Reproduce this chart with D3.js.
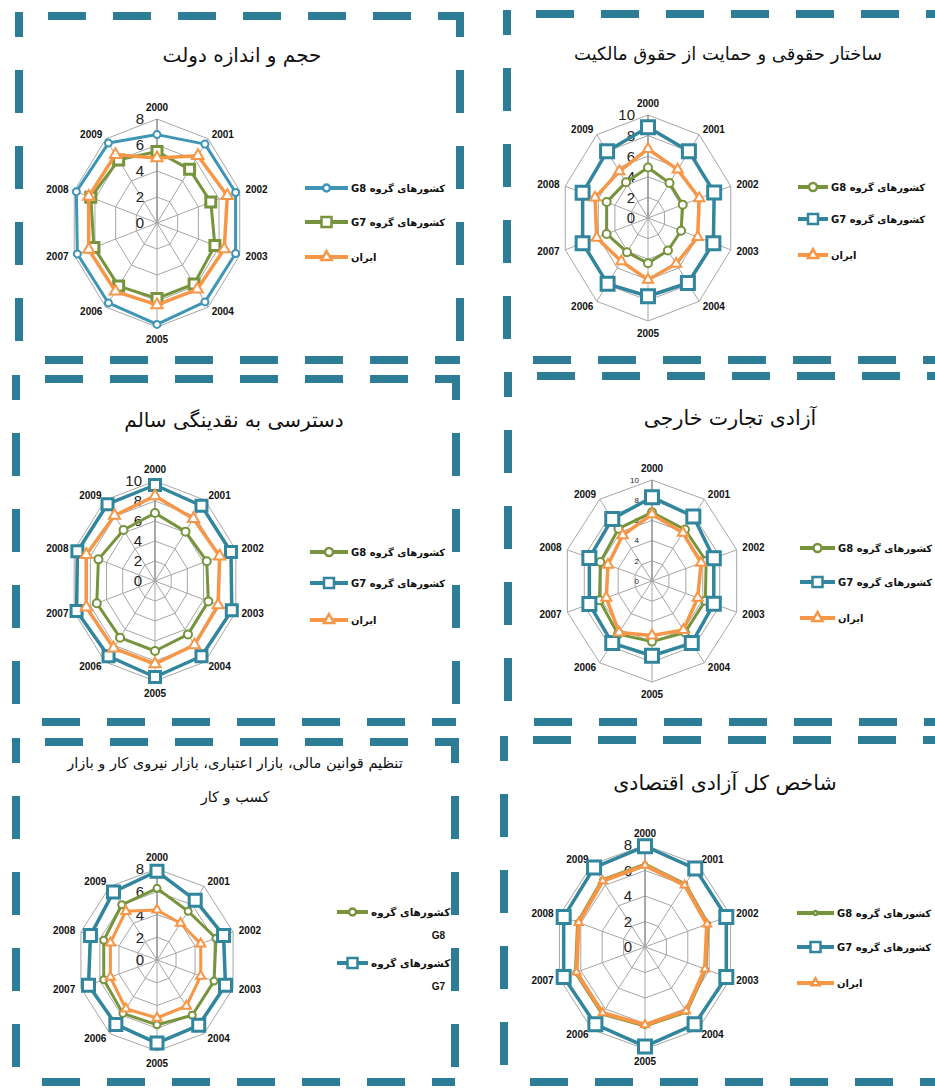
<!DOCTYPE html>
<html><head><meta charset="utf-8">
<script src="https://cdn.jsdelivr.net/npm/d3@7"></script>
<style>body{margin:0;background:#fff} svg{display:block}</style>
</head><body>
<svg id="c" width="935" height="1088"></svg>
<script>
// ---------- DATA ----------
const years = ["2000","2001","2002","2003","2004","2005","2006","2007","2008","2009"];
const labelG8 = "کشورهای گروه G8";
const labelG7 = "کشورهای گروه G7";
const labelIran = "ایران";
const titles = [
  "حجم و اندازه دولت",
  "ساختار حقوقی و حمایت از حقوق مالکیت",
  "دسترسی به نقدینگی سالم",
  "آزادی تجارت خارجی",
  "تنظیم قوانین مالی، بازار اعتباری، بازار نیروی کار و بازار|کسب و کار",
  "شاخص کل آزادی اقتصادی"
];
const ticks8 = [0,2,4,6,8];
const ticks10 = [0,2,4,6,8,10];

// 1 size of government
const govG8   = [6.8, 7.5, 7.6, 7.6, 7.5, 7.8, 7.6, 7.7, 7.8, 7.6];
const govG7   = [5.5, 5.1, 5.2, 5.6, 5.8, 5.8, 6.0, 6.1, 6.4, 6.0];
const govIran = [5.0, 6.4, 6.8, 6.5, 6.3, 6.3, 6.5, 6.6, 6.6, 6.5];
// 2 legal structure & property rights
const legalG8   = [4.9, 4.2, 4.2, 4.0, 3.9, 4.4, 4.1, 5.0, 5.0, 4.3];
const legalG7   = [8.8, 8.0, 8.0, 7.9, 7.8, 7.6, 7.9, 7.9, 7.9, 8.0];
const legalIran = [6.7, 5.8, 6.2, 6.0, 5.5, 6.0, 5.2, 6.2, 6.4, 5.6];
// 3 sound money
const moneyG8   = [6.8, 6.1, 6.4, 6.6, 6.6, 7.0, 7.0, 7.2, 7.0, 6.3];
const moneyG7   = [9.6, 9.3, 9.4, 9.5, 9.3, 9.6, 9.3, 9.7, 9.6, 9.5];
const moneyIran = [8.5, 7.7, 8.0, 7.8, 7.9, 8.3, 8.3, 8.5, 8.5, 8.1];
// 4 freedom to trade
const tradeG8   = [6.8, 6.3, 6.4, 6.3, 6.3, 6.0, 6.5, 6.2, 6.1, 6.4];
const tradeG7   = [8.3, 7.9, 7.3, 7.3, 7.6, 7.4, 7.6, 7.4, 7.4, 7.6];
const tradeIran = [6.6, 5.9, 5.8, 5.4, 6.0, 5.4, 6.3, 5.4, 5.2, 5.6];
// 5 regulation
const regG8   = [6.3, 5.3, 6.2, 6.0, 6.0, 5.7, 5.8, 5.6, 5.6, 6.0];
const regG7   = [7.8, 6.5, 7.0, 7.2, 7.1, 7.3, 7.0, 7.2, 7.0, 7.4];
const regIran = [4.4, 4.0, 4.6, 4.6, 5.0, 5.1, 5.3, 4.9, 4.9, 5.3];
// 6 overall index
const allG8   = [6.5, 6.1, 5.9, 5.7, 6.3, 6.2, 6.5, 6.5, 6.3, 6.5];
const allG7   = [7.9, 7.6, 7.6, 7.6, 7.5, 7.8, 7.5, 7.6, 7.6, 7.7];
const allIran = [6.4, 6.0, 5.8, 5.6, 6.2, 6.1, 6.4, 6.4, 6.2, 6.4];

// ---------- STYLE / LAYOUT ----------
const BLUE = "#31859C", BLUE2 = "#3F95B5", GREEN = "#77933C", ORANGE = "#F79646";
const BORDER = "#2E7D97";
const FA = "'DejaVu Sans', sans-serif";
const NUM = "'Liberation Sans', Arial, sans-serif";
const RLE = "\u202B", PDF = "\u202C";

const panels = [
  { title: titles[0], max: 8, ticks: ticks8, box: [19,16,460,360], titleX: 242, titleY: 62, titleSize: 20,
    cx: 157, cy: 223, rx: 87, ry: 104, tickSize: 15,
    series: [
      {name: labelG8, values: govG8, color: BLUE2, marker: "circle", ms: 7, lw: 3},
      {name: labelG7, values: govG7, color: GREEN, marker: "square", ms: 10, lw: 3},
      {name: labelIran, values: govIran, color: ORANGE, marker: "triangle", ms: 11, lw: 3.5}],
    legend: {x1: 305, x2: 348, ys: [188, 222, 257]} },
  { title: titles[1], max: 10, ticks: ticks10, box: [507,14,945,360], titleX: 728, titleY: 60, titleSize: 18,
    cx: 648, cy: 218, rx: 87, ry: 103, tickSize: 15,
    series: [
      {name: labelG8, values: legalG8, color: GREEN, marker: "circle", ms: 8, lw: 3},
      {name: labelG7, values: legalG7, color: BLUE, marker: "square", ms: 13, lw: 3.5},
      {name: labelIran, values: legalIran, color: ORANGE, marker: "triangle", ms: 10, lw: 3.5}],
    legend: {x1: 798, x2: 828, ys: [187, 219, 255]} },
  { title: titles[2], max: 10, ticks: ticks10, box: [16,379,456,722], titleX: 234, titleY: 427, titleSize: 20,
    cx: 155, cy: 581, rx: 85, ry: 100, tickSize: 15,
    series: [
      {name: labelG8, values: moneyG8, color: GREEN, marker: "circle", ms: 8, lw: 3},
      {name: labelG7, values: moneyG7, color: BLUE, marker: "square", ms: 11, lw: 3.5},
      {name: labelIran, values: moneyIran, color: ORANGE, marker: "triangle", ms: 11, lw: 3.5}],
    legend: {x1: 310, x2: 348, ys: [552, 583, 620]} },
  { title: titles[3], max: 10, ticks: ticks10, box: [508,376,945,722], titleX: 730, titleY: 425, titleSize: 20.5,
    cx: 652, cy: 581, rx: 89, ry: 101, tickSize: 8,
    series: [
      {name: labelG8, values: tradeG8, color: GREEN, marker: "circle", ms: 8, lw: 3},
      {name: labelG7, values: tradeG7, color: BLUE, marker: "square", ms: 13, lw: 3.5},
      {name: labelIran, values: tradeIran, color: ORANGE, marker: "triangle", ms: 10, lw: 3.5}],
    legend: {x1: 800, x2: 835, ys: [548, 582, 618]} },
  { title: titles[4], max: 8, ticks: ticks8, box: [16,742,455,1082], titleX: 235, titleY: 768, titleSize: 14.5,
    cx: 157, cy: 960, rx: 80, ry: 91, tickSize: 15,
    series: [
      {name: labelG8, values: regG8, color: GREEN, marker: "circle", ms: 7, lw: 3},
      {name: labelG7, values: regG7, color: BLUE, marker: "square", ms: 12, lw: 3.5},
      {name: labelIran, values: regIran, color: ORANGE, marker: "triangle", ms: 9, lw: 3}],
    legend: {x1: 337, x2: 368, ys: [912, 963], wrap: true, count: 2} },
  { title: titles[5], max: 8, ticks: ticks8, box: [504,740,945,1082], titleX: 725, titleY: 790, titleSize: 20.5,
    cx: 645, cy: 947, rx: 90, ry: 102, tickSize: 15,
    series: [
      {name: labelG8, values: allG8, color: GREEN, marker: "circle", ms: 4, lw: 3},
      {name: labelG7, values: allG7, color: BLUE, marker: "square", ms: 13, lw: 3.5},
      {name: labelIran, values: allIran, color: ORANGE, marker: "triangle", ms: 8, lw: 4}],
    legend: {x1: 797, x2: 834, ys: [913, 947, 983]} }
];

const svg = d3.select("#c");

function drawBorder(b) {
  const [x0,y0,x1,y1] = b;
  const g = svg.append("g").attr("stroke", BORDER).attr("stroke-width", 8).attr("fill","none");
  g.append("line").attr("x1", x0+29).attr("y1", y0).attr("x2", x1).attr("y2", y0)
    .attr("stroke-dasharray", "38 27");
  g.append("line").attr("x1", x0+26).attr("y1", y1).attr("x2", x1).attr("y2", y1)
    .attr("stroke-dasharray", "38 27");
  g.append("line").attr("x1", x0).attr("y1", y0-4).attr("x2", x0).attr("y2", y1+4)
    .attr("stroke-dasharray", "43 33").attr("stroke-dashoffset", 18);
  g.append("line").attr("x1", x1).attr("y1", y0-4).attr("x2", x1).attr("y2", y1+4)
    .attr("stroke-dasharray", "43 33").attr("stroke-dashoffset", 18);
}

function markerPath(type, size) {
  if (type === "triangle") return d3.symbol(d3.symbolTriangle, size*size*0.45)();
  if (type === "square") { const h = size/2; return `M${-h},${-h}H${h}V${h}H${-h}Z`; }
  return d3.symbol(d3.symbolCircle, size*size*0.785)();
}

function drawPanel(p) {
  drawBorder(p.box);
  const g = svg.append("g");
  const n = years.length;
  const ang = d3.scaleLinear().domain([0, n]).range([0, 2*Math.PI]);
  const rX = d3.scaleLinear().domain([0, p.max]).range([0, p.rx]);
  const rY = d3.scaleLinear().domain([0, p.max]).range([0, p.ry]);
  const px = (i, v) => p.cx + rX(v) * Math.sin(ang(i));
  const py = (i, v) => p.cy - rY(v) * Math.cos(ang(i));

  // title
  const tl = p.title.split("|");
  tl.forEach((t, k) => {
    g.append("text").attr("x", p.titleX).attr("y", p.titleY + k*34)
      .attr("text-anchor", "middle").attr("direction", "rtl")
      .attr("font-family", FA).attr("font-size", p.titleSize).attr("fill", "#111")
      .text(t);
  });

  // grid rings
  const ringLine = d3.line().curve(d3.curveLinearClosed);
  p.ticks.filter(t => t > 0).forEach(t => {
    g.append("path").attr("d", ringLine(years.map((y,i) => [px(i,t), py(i,t)])))
      .attr("fill", "none").attr("stroke", "#a6a6a6").attr("stroke-width", 1);
  });
  // spokes
  years.forEach((y, i) => {
    g.append("line").attr("x1", p.cx).attr("y1", p.cy)
      .attr("x2", px(i, p.max)).attr("y2", py(i, p.max))
      .attr("stroke", i === 0 ? "#8c8c8c" : "#a6a6a6").attr("stroke-width", i === 0 ? 1.5 : 1);
  });
  // year labels
  years.forEach((y, i) => {
    const s = Math.sin(ang(i)), c = Math.cos(ang(i));
    let x = px(i, p.max) + s*6, yy = py(i, p.max) - c*6;
    let anchor = s > 0.2 ? "start" : (s < -0.2 ? "end" : "middle");
    let dy = c > 0.9 ? -2 : (c < -0.9 ? 10 : 3.5);
    g.append("text").attr("x", x).attr("y", yy + dy).attr("text-anchor", anchor)
      .attr("font-family", NUM).attr("font-size", 10).attr("font-weight", "bold")
      .attr("fill", "#111").text(y);
  });
  // tick labels
  p.ticks.forEach(t => {
    g.append("text").attr("x", p.cx - 13).attr("y", py(0, t) + p.tickSize*0.36)
      .attr("text-anchor", "end").attr("font-family", NUM).attr("font-size", p.tickSize)
      .attr("fill", "#222").text(t);
  });

  // series
  const line = d3.line().x(d => d[0]).y(d => d[1]).curve(d3.curveLinearClosed);
  p.series.forEach(s => {
    const pts = s.values.map((v, i) => [px(i, v), py(i, v)]);
    g.append("path").attr("d", line(pts)).attr("fill", "none")
      .attr("stroke", s.color).attr("stroke-width", s.lw).attr("stroke-linejoin", "round");
    g.selectAll(null).data(pts).enter().append("path")
      .attr("transform", d => `translate(${d[0]},${d[1]})`)
      .attr("d", markerPath(s.marker, s.ms))
      .attr("fill", "#fff").attr("stroke", s.color).attr("stroke-width", s.marker === "square" ? 3 : 2);
  });

  // legend
  const L = p.legend;
  const cnt = L.count || p.series.length;
  p.series.slice(0, cnt).forEach((s, k) => {
    const y = L.ys[k];
    g.append("line").attr("x1", L.x1).attr("x2", L.x2).attr("y1", y).attr("y2", y)
      .attr("stroke", s.color).attr("stroke-width", 4);
    g.append("path").attr("transform", `translate(${(L.x1+L.x2)/2},${y})`)
      .attr("d", markerPath(s.marker, Math.min(s.ms, 10)))
      .attr("fill", "#fff").attr("stroke", s.color).attr("stroke-width", 2.5);
    if (L.wrap) {
      const parts = s.name.split(" ");
      const last = parts.pop();
      g.append("text").attr("x", L.x2 + 3).attr("y", y + 4).attr("direction", "rtl")
        .attr("text-anchor", "end").attr("font-family", FA).attr("font-size", 10.5).attr("font-weight","bold")
        .attr("fill", "#111").text(RLE + parts.join(" ") + PDF);
      g.append("text").attr("x", L.x2 + 77).attr("y", y + 27)
        .attr("text-anchor", "end").attr("font-family", NUM).attr("font-size", 10).attr("font-weight","bold")
        .attr("fill", "#111").text(last);
    } else {
      g.append("text").attr("x", L.x2 + 3).attr("y", y + 4).attr("direction", "rtl")
        .attr("text-anchor", "end").attr("font-family", FA).attr("font-size", 10).attr("font-weight","bold")
        .attr("fill", "#111").text(RLE + s.name + PDF);
    }
  });
}

panels.forEach(drawPanel);
</script>
</body></html>
